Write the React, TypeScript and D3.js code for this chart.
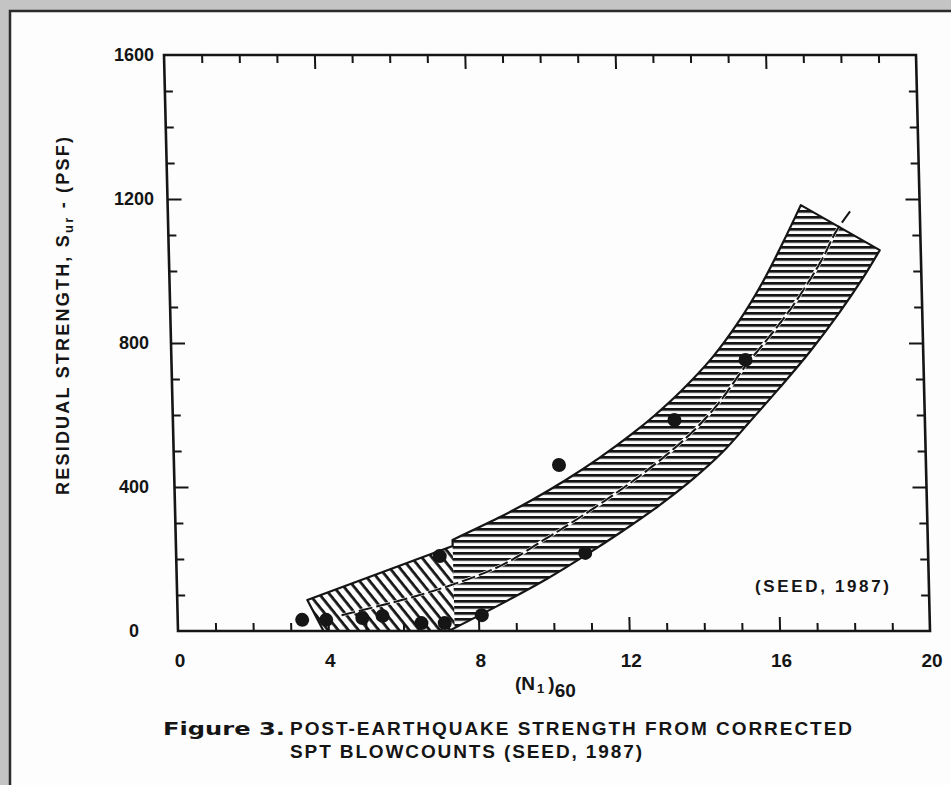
import React, { useRef, useEffect } from "react";
import * as d3 from "d3";

// axis labels
const xTicks = [0, 4, 8, 12, 16, 20];
const yTicks = [0, 400, 800, 1200, 1600];

// case histories: (N1)60 and residual strength (psf)
const pointN = [3.31, 3.95, 4.91, 5.45, 6.48, 7.1, 7.01, 8.09, 10.24, 10.88, 13.34, 15.27];
const pointS = [31, 31, 36, 42, 22, 22, 208, 44, 461, 217, 586, 753];

// band: lower-left piece (diagonal hatch) ends at stepN
const bandStart = [3.46, 86];
const bandFootN = 3.87;
const stepN = 7.36;
const stepS = 236;

// band: upper and lower boundaries of main piece
const upperN = [7.36, 8.61, 9.5, 10.39, 11.31, 12.21, 12.83, 13.57, 14.39, 15.13, 15.77, 16.33, 16.84];
const upperS = [253, 315, 364, 418, 480, 548, 600, 670, 760, 862, 968, 1077, 1183];
const lowerN = [7.2, 8.63, 9.85, 10.88, 11.88, 12.83, 13.78, 14.6, 15.34, 16.16, 16.98, 17.8, 18.44, 18.91];
const lowerS = [0, 76, 145, 210, 277, 345, 421, 497, 581, 676, 775, 885, 980, 1058];

// dashed middle line
const centerN = [4.36, 5.97, 7.31, 8.66, 9.82, 10.63, 11.64, 12.45, 13.27, 13.9, 14.55, 15.27, 15.93, 16.47, 17.03, 17.39, 17.75, 18.17];
const centerS = [44, 86, 128, 183, 255, 307, 376, 436, 503, 562, 636, 737, 819, 890, 975, 1036, 1108, 1169];

const W = 951;
const H = 785;

const App = () => {
  const svgRef = useRef<SVGSVGElement>(null);

  useEffect(() => {
    const svg = d3.select(svgRef.current);
    svg.selectAll("*").remove();

    const x = d3.scaleLinear().domain([0, 20]).range([178, 930]);
    const y = d3.scaleLinear().domain([0, 1600]).range([631, 55]);
    const ink = "#151515";
    const font = "'Liberation Sans', Arial, sans-serif";
    // the scan leans a little: top of the frame sits ~14px left of the bottom
    const skew = (Math.atan(14 / 576) * 180) / Math.PI;

    // page
    svg.append("rect").attr("width", W).attr("height", H).attr("fill", "#c4c4c4");
    svg
      .append("rect")
      .attr("x", 10)
      .attr("y", 11)
      .attr("width", 980)
      .attr("height", 820)
      .attr("fill", "#fdfdfd")
      .attr("stroke", "#2b2b2b")
      .attr("stroke-width", 2.5);

    const defs = svg.append("defs");
    const hp = defs
      .append("pattern")
      .attr("id", "hatchH")
      .attr("patternUnits", "userSpaceOnUse")
      .attr("width", 10)
      .attr("height", 6);
    hp.append("rect").attr("width", 10).attr("height", 2.8).attr("fill", ink);
    const dp = defs
      .append("pattern")
      .attr("id", "hatchD")
      .attr("patternUnits", "userSpaceOnUse")
      .attr("width", 10)
      .attr("height", 8)
      .attr("patternTransform", "rotate(52)");
    dp.append("rect").attr("width", 10).attr("height", 2.8).attr("fill", ink);

    const line = d3.line().curve(d3.curveCatmullRom.alpha(0.5));
    const upperPts = upperN.map((n, i) => [x(n), y(upperS[i])] as [number, number]);
    const lowerPts = lowerN.map((n, i) => [x(n), y(lowerS[i])] as [number, number]).reverse();
    const centerPts = centerN.map((n, i) => [x(n), y(centerS[i])] as [number, number]);

    const bandPath =
      `M${x(bandStart[0])},${y(bandStart[1])}L${x(stepN)},${y(stepS)}` +
      (line(upperPts) as string).replace(/^M/, "L") +
      (line(lowerPts) as string).replace(/^M/, "L") +
      `L${x(bandFootN)},${y(0)}Z`;

    defs.append("clipPath").attr("id", "bandClip").append("path").attr("d", bandPath);

    const g = svg
      .append("g")
      .attr("transform", `translate(0,${y(0)}) skewX(${skew}) translate(0,${-y(0)})`);

    // band hatching
    const hatch = g.append("g").attr("clip-path", "url(#bandClip)");
    hatch
      .append("rect")
      .attr("x", x(0))
      .attr("y", y(1600))
      .attr("width", x(stepN) - x(0))
      .attr("height", y(0) - y(1600))
      .attr("fill", "url(#hatchD)");
    hatch
      .append("rect")
      .attr("x", x(stepN))
      .attr("y", y(1600))
      .attr("width", x(20) - x(stepN))
      .attr("height", y(0) - y(1600))
      .attr("fill", "url(#hatchH)");

    // middle line
    g.append("path")
      .attr("d", line(centerPts))
      .attr("fill", "none")
      .attr("stroke", "#fdfdfd")
      .attr("stroke-width", 3)
      .attr("clip-path", "url(#bandClip)");
    g.append("path")
      .attr("d", line(centerPts))
      .attr("fill", "none")
      .attr("stroke", ink)
      .attr("stroke-width", 2)
      .attr("stroke-dasharray", "14 4");

    g.append("path")
      .attr("d", bandPath)
      .attr("fill", "none")
      .attr("stroke", ink)
      .attr("stroke-width", 2.2)
      .attr("stroke-linejoin", "round");

    // frame and inward ticks
    g.append("rect")
      .attr("x", x(0))
      .attr("y", y(1600))
      .attr("width", x(20) - x(0))
      .attr("height", y(0) - y(1600))
      .attr("fill", "none")
      .attr("stroke", ink)
      .attr("stroke-width", 2.6);

    const minorN = d3.range(1, 20).filter((v) => v % 4 !== 0);
    const majorN = [4, 8, 12, 16];
    const minorS = d3.range(100, 1600, 100).filter((v) => v % 400 !== 0);
    const majorS = [400, 800, 1200];

    const ticks = (axis: any, values: number[], size: number, transform: string) => {
      g.append("g")
        .attr("transform", transform)
        .call(axis.tickValues(values).tickSize(size).tickFormat(() => ""))
        .call((a: any) => a.select(".domain").remove())
        .selectAll("line")
        .attr("stroke", ink)
        .attr("stroke-width", 2);
    };
    ticks(d3.axisTop(x), minorN, 8, `translate(0,${y(0)})`);
    ticks(d3.axisTop(x), majorN, 14, `translate(0,${y(0)})`);
    ticks(d3.axisBottom(x), minorN, 8, `translate(0,${y(1600)})`);
    ticks(d3.axisBottom(x), majorN, 14, `translate(0,${y(1600)})`);
    ticks(d3.axisRight(y), minorS, 8, `translate(${x(0)},0)`);
    ticks(d3.axisRight(y), majorS, 14, `translate(${x(0)},0)`);
    ticks(d3.axisLeft(y), minorS, 8, `translate(${x(20)},0)`);
    ticks(d3.axisLeft(y), majorS, 14, `translate(${x(20)},0)`);

    // data points
    g.selectAll(".pt")
      .data(pointN)
      .enter()
      .append("circle")
      .attr("cx", (d) => x(d))
      .attr("cy", (_, i) => y(pointS[i]))
      .attr("r", 7)
      .attr("fill", ink);

    // tick labels
    svg
      .selectAll(".ylab")
      .data(yTicks)
      .enter()
      .append("text")
      .attr("x", 134)
      .attr("y", (d) => y(d) + 6)
      .attr("text-anchor", "middle")
      .attr("font-family", font)
      .attr("font-weight", "bold")
      .attr("font-size", 18)
      .attr("fill", ink)
      .text((d) => d);

    svg
      .selectAll(".xlab")
      .data(xTicks)
      .enter()
      .append("text")
      .attr("x", (d) => x(d) + 2)
      .attr("y", 667)
      .attr("text-anchor", "middle")
      .attr("font-family", font)
      .attr("font-weight", "bold")
      .attr("font-size", 19)
      .attr("fill", ink)
      .text((d) => d);

    // x title (N1)60
    const xt = svg
      .append("text")
      .attr("x", 515)
      .attr("y", 690)
      .attr("font-family", font)
      .attr("font-weight", "bold")
      .attr("font-size", 19)
      .attr("fill", ink);
    xt.append("tspan").text("(N");
    xt.append("tspan").attr("font-size", 13).attr("dy", 3).attr("dx", 2).text("1");
    xt.append("tspan").attr("dy", -3).attr("dx", 4).text(")");
    xt.append("tspan").attr("dy", 7).attr("font-size", 19).text("60");

    // y title
    const yt = svg
      .append("text")
      .attr("transform", "translate(69,316) rotate(-90)")
      .attr("text-anchor", "middle")
      .attr("font-family", font)
      .attr("font-weight", "bold")
      .attr("font-size", 18)
      .attr("fill", ink)
      .attr("textLength", 358)
      .attr("lengthAdjust", "spacing");
    yt.append("tspan").text("RESIDUAL  STRENGTH, S");
    yt.append("tspan").attr("font-size", 13).attr("dy", 4).text("ur");
    yt.append("tspan").attr("dy", -4).text(" - (PSF)");

    svg
      .append("text")
      .attr("x", 755)
      .attr("y", 592)
      .attr("font-family", font)
      .attr("font-weight", "bold")
      .attr("font-size", 17)
      .attr("fill", ink)
      .attr("textLength", 134)
      .attr("lengthAdjust", "spacing")
      .text("(SEED, 1987)");

    // caption
    svg
      .append("text")
      .attr("x", 163)
      .attr("y", 735)
      .attr("font-family", "'DejaVu Sans', sans-serif")
      .attr("font-weight", "bold")
      .attr("font-size", 18)
      .attr("fill", ink)
      .attr("textLength", 122)
      .attr("lengthAdjust", "spacingAndGlyphs")
      .text("Figure 3.");
    svg
      .append("text")
      .attr("x", 290)
      .attr("y", 735)
      .attr("font-family", font)
      .attr("font-weight", "bold")
      .attr("font-size", 19)
      .attr("fill", ink)
      .attr("textLength", 562)
      .attr("lengthAdjust", "spacing")
      .text("POST-EARTHQUAKE  STRENGTH  FROM  CORRECTED");
    svg
      .append("text")
      .attr("x", 290)
      .attr("y", 758)
      .attr("font-family", font)
      .attr("font-weight", "bold")
      .attr("font-size", 19)
      .attr("fill", ink)
      .attr("textLength", 352)
      .attr("lengthAdjust", "spacing")
      .text("SPT  BLOWCOUNTS  (SEED, 1987)");
  }, []);

  return (
    <svg
      ref={svgRef}
      width={W}
      height={H}
      style={{ position: "absolute", left: 0, top: 0, display: "block" }}
    ></svg>
  );
};

export default App;
